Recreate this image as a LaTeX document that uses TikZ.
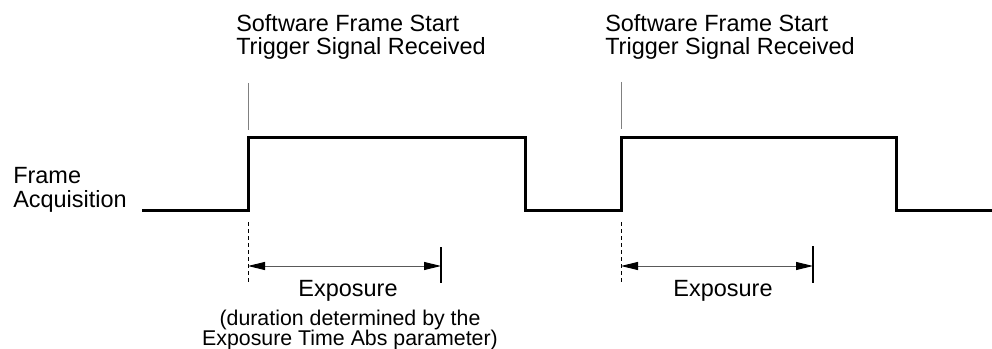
\documentclass[tikz,border=0pt]{standalone}
\usepackage{fontspec}
\setmainfont{Liberation Sans}
\usetikzlibrary{arrows.meta}
\newcommand{\bigtxt}{\fontsize{17.6}{17.25}\selectfont}
\newcommand{\smalltxt}{\fontsize{16}{15.75}\selectfont}

\begin{document}
\begin{tikzpicture}[x=0.75pt,y=-0.75pt,
	signal/.style={line width=2.25pt,line join=miter},
	trigtick/.style={gray,line width=0.75pt},
	endtick/.style={black,line width=0.9pt},
	guide/.style={line width=0.75pt,dash pattern=on 3pt off 2.25pt},
	span/.style={gray!70!black,line width=0.75pt,
		{Triangle[length=12.75pt,width=6pt,color=black]}-{Triangle[length=12.75pt,width=6pt,color=black]}},
	lbl/.style={inner sep=0pt,font=\bigtxt},
	note/.style={inner sep=0pt,font=\smalltxt}]
			%%%%% START %%%%%
			\useasboundingbox (0,0) rectangle (992,349);
			
			% labels
			\node[lbl,anchor=base west] (trigA1) at (236,31.5) {Software Frame Start};
			\node[lbl,anchor=base west] (trigA2) at ([yshift=-17.25pt]trigA1.base west) {Trigger Signal Received};
			\node[lbl,anchor=base west] (trigB1) at (605,31.5) {Software Frame Start};
			\node[lbl,anchor=base west] (trigB2) at ([yshift=-17.25pt]trigB1.base west) {Trigger Signal Received};
			
			\node[lbl,anchor=base west] (acq1) at (13,184) {Frame};
			\node[lbl,anchor=base west] (acq2) at ([yshift=-17.25pt]acq1.base west) {Acquisition};
			
			% waveform
			\draw[signal] (142,210.5) -- (248,210.5) -- (248,137.5) -- (525,137.5) -- (525,210.5)
				-- (621,210.5) -- (621,137.5) -- (896,137.5) -- (896,210.5) -- (992,210.5);
			
			\draw[trigtick] (248,83) -- (248,130);
			\draw[trigtick] (621,82) -- (621,129);
			
			% exposure 1
			\coordinate (expA0) at (248,266);
			\coordinate (expA1) at (441,266);
			\draw[guide] (248,222) -- (248,283);
			\draw[endtick] (441,247) -- (441,283);
			\draw[span] (expA0) -- (expA1);
			\node[lbl,anchor=base] (expA) at (348,296) {Exposure};
			\node[note,anchor=base] (durA1) at (350,325.5) {(duration determined by the};
			\node[note,anchor=base] (durA2) at ([yshift=-15pt]durA1.base) {Exposure Time Abs parameter)};
			
			% exposure 2
			\coordinate (expB0) at (621,266);
			\coordinate (expB1) at (813,266);
			\draw[guide] (621,222) -- (621,283);
			\draw[endtick] (813,246) -- (813,283);
			\draw[span] (expB0) -- (expB1);
			\node[lbl,anchor=base] (expB) at (723,296) {Exposure};
			
			%%%%% END %%%%%
\end{tikzpicture}
\end{document}
